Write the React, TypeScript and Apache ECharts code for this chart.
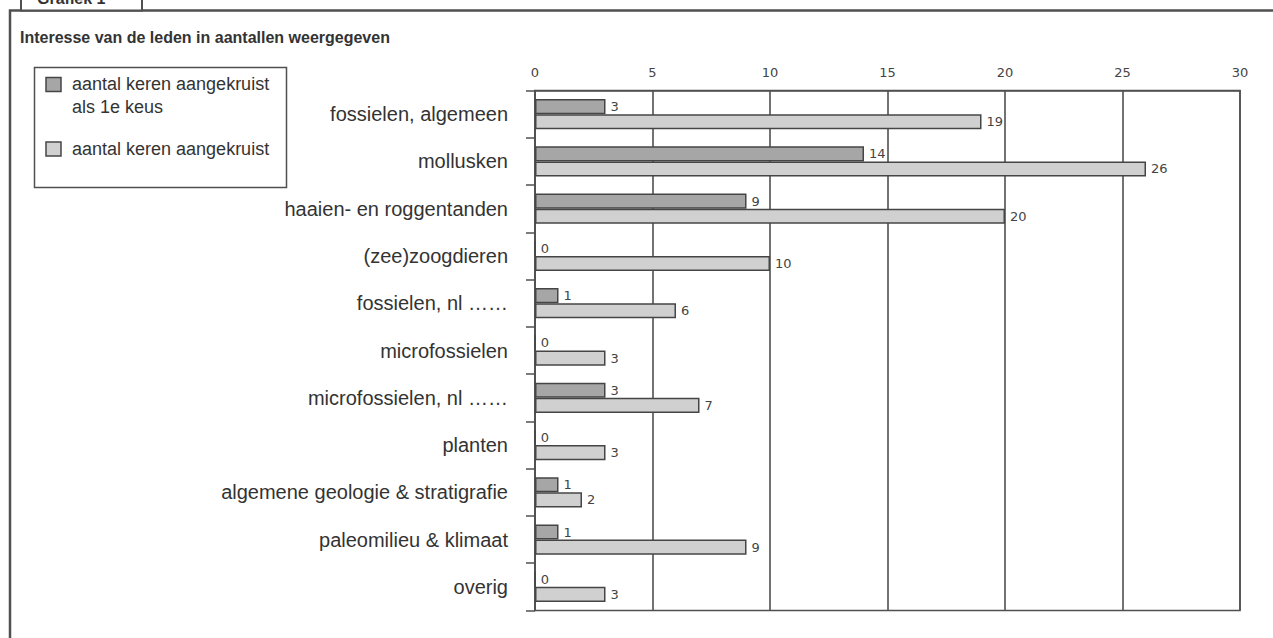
import React, { useEffect, useRef } from "react";
import * as echarts from "echarts";

const categories = [
  "fossielen, algemeen",
  "mollusken",
  "haaien- en roggentanden",
  "(zee)zoogdieren",
  "fossielen, nl ……",
  "microfossielen",
  "microfossielen, nl ……",
  "planten",
  "algemene geologie & stratigrafie",
  "paleomilieu & klimaat",
  "overig",
];
const firstChoice = [3, 14, 9, 0, 1, 0, 3, 0, 1, 1, 0];
const totalChecked = [19, 26, 20, 10, 6, 3, 7, 3, 2, 9, 3];
const xTicks = { min: 0, max: 30, interval: 5 };
const seriesNames = ["aantal keren aangekruist\nals 1e keus", "aantal keren aangekruist"];

const LINE = "#505050";
const DARK = "#a6a6a6";
const LIGHT = "#d0d0d0";
const TEXT = "#333333";
const SANS = "'Liberation Sans', Arial, Helvetica, sans-serif";
const NUM = "'DejaVu Sans', Verdana, sans-serif";

export default function App() {
  const ref = useRef<HTMLDivElement>(null);
  useEffect(() => {
    document.body.style.margin = "0";
    const chart = echarts.init(ref.current!, null, { renderer: "svg" });
    const labelStyle = {
      show: true,
      position: "right" as const,
      distance: 5,
      fontFamily: NUM,
      fontSize: 13,
      color: "#444",
    };
    chart.setOption({
      animation: false,
      backgroundColor: "#ffffff",
      grid: {
        left: 535,
        top: 90.5,
        width: 705,
        height: 520,
        show: true,
        borderColor: LINE,
        borderWidth: 1.5,
        backgroundColor: "transparent",
      },
      xAxis: {
        type: "value",
        position: "top",
        min: xTicks.min,
        max: xTicks.max,
        interval: xTicks.interval,
        axisLine: { show: true, lineStyle: { color: LINE, width: 1.5 } },
        axisTick: { show: false },
        axisLabel: { margin: 12, fontFamily: NUM, fontSize: 13, color: "#444" },
        splitLine: { show: true, lineStyle: { color: LINE, width: 1.6 } },
      },
      yAxis: {
        type: "category",
        inverse: true,
        data: categories,
        axisLine: { show: true, lineStyle: { color: LINE, width: 1.5 } },
        axisTick: { show: true, length: 9, lineStyle: { color: LINE, width: 1.5 } },
        axisLabel: { margin: 27, fontFamily: SANS, fontSize: 20, color: TEXT },
      },
      series: [
        {
          name: seriesNames[0],
          type: "bar",
          data: firstChoice,
          barGap: "0%",
          barCategoryGap: "36%",
          itemStyle: { color: DARK, borderColor: "#454545", borderWidth: 1.5 },
          label: labelStyle,
        },
        {
          name: seriesNames[1],
          type: "bar",
          data: totalChecked,
          barGap: "0%",
          barCategoryGap: "36%",
          itemStyle: { color: LIGHT, borderColor: "#454545", borderWidth: 1.5 },
          label: labelStyle,
        },
      ],
      graphic: [
        {
          type: "rect",
          shape: { x: 10, y: 10.5, width: 1300, height: 700 },
          style: { fill: "none", stroke: LINE, lineWidth: 2.5 },
          silent: true,
        },
        {
          type: "rect",
          shape: { x: 21, y: -20, width: 121, height: 30.5 },
          style: { fill: "#fff", stroke: LINE, lineWidth: 2 },
          silent: true,
        },
        {
          type: "text",
          x: 37,
          y: 6,
          style: {
            text: "Grafiek 1",
            font: `bold 16px ${SANS}`,
            fill: TEXT,
            textVerticalAlign: "bottom",
          },
          silent: true,
        },
        {
          type: "text",
          x: 20,
          y: 37,
          style: {
            text: "Interesse van de leden in aantallen weergegeven",
            font: `bold 16px ${SANS}`,
            fill: TEXT,
            textVerticalAlign: "middle",
          },
          silent: true,
        },
        {
          type: "rect",
          shape: { x: 34.5, y: 67.5, width: 252, height: 120 },
          style: { fill: "#fff", stroke: LINE, lineWidth: 1.5 },
          silent: true,
        },
        {
          type: "rect",
          shape: { x: 46, y: 77.5, width: 15, height: 14 },
          style: { fill: DARK, stroke: "#454545", lineWidth: 1.5 },
          silent: true,
        },
        {
          type: "text",
          x: 72,
          y: 84,
          style: { text: "aantal keren aangekruist", font: `18px ${SANS}`, fill: TEXT, textVerticalAlign: "middle" },
          silent: true,
        },
        {
          type: "text",
          x: 72,
          y: 107,
          style: { text: "als 1e keus", font: `18px ${SANS}`, fill: TEXT, textVerticalAlign: "middle" },
          silent: true,
        },
        {
          type: "rect",
          shape: { x: 46, y: 142, width: 15, height: 14 },
          style: { fill: LIGHT, stroke: "#454545", lineWidth: 1.5 },
          silent: true,
        },
        {
          type: "text",
          x: 72,
          y: 149,
          style: { text: "aantal keren aangekruist", font: `18px ${SANS}`, fill: TEXT, textVerticalAlign: "middle" },
          silent: true,
        },
      ],
    });
    return () => chart.dispose();
  }, []);
  return <div ref={ref} style={{ width: 1273, height: 638 }} />;
}
